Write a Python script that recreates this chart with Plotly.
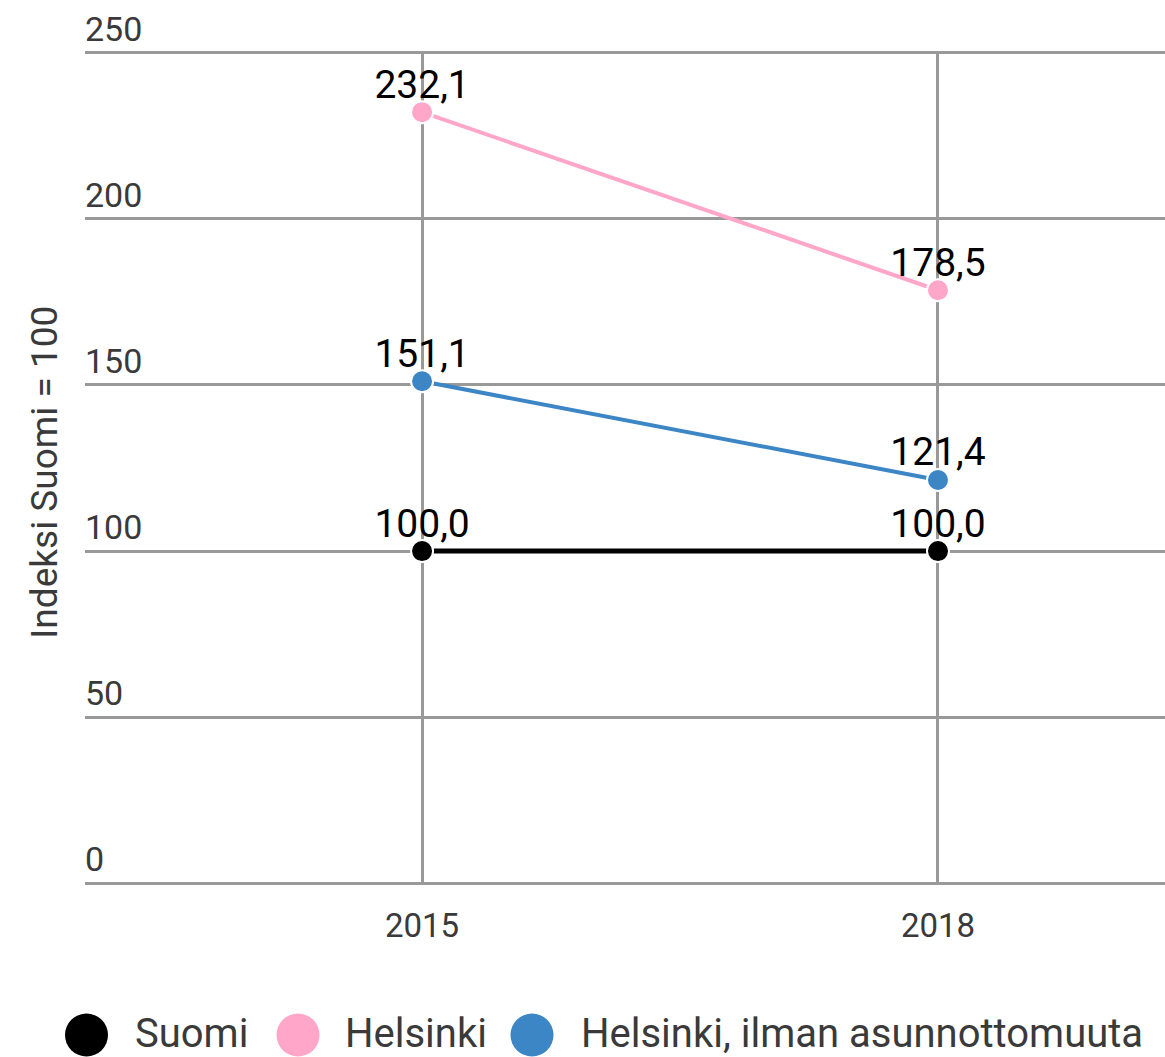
import plotly.graph_objects as go

years = [2015, 2018]
series_names = ["Suomi", "Helsinki", "Helsinki, ilman asunnottomuuta"]
suomi = [100.0, 100.0]
helsinki = [232.1, 178.5]
helsinki_ilman = [151.1, 121.4]
y_ticks = [0, 50, 100, 150, 200, 250]
colors = ["#000000", "#ffa6c9", "#3d86c6"]
line_widths = [5, 4, 4]

def fmt(v):
    return f"{v:.1f}".replace(".", ",")

FONT = "Roboto"
TICKCOL = "#3a3a3a"

fig = go.Figure()
all_vals = [suomi, helsinki, helsinki_ilman]
for name, vals, col, lw in zip(series_names, all_vals, colors, line_widths):
    fig.add_trace(go.Scatter(
        x=years, y=vals, name=name, mode="lines+markers",
        line=dict(color=col, width=lw),
        marker=dict(color=col, size=22, line=dict(color="white", width=2)),
        cliponaxis=False, showlegend=False,
    ))
for name, vals in zip(series_names, all_vals):
    fig.add_trace(go.Scatter(
        x=years, y=vals, name=name + " labels", mode="markers+text",
        marker=dict(size=6, opacity=0),
        text=[fmt(v) for v in vals], textposition="top center",
        textfont=dict(family=FONT, size=39, color="#000000"),
        cliponaxis=False, showlegend=False, hoverinfo="skip",
    ))

fig.update_layout(
    width=1165, height=1057,
    margin=dict(l=85, r=0, t=51, b=172),
    plot_bgcolor="white", paper_bgcolor="white",
    font=dict(family=FONT, color=TICKCOL),
    showlegend=False,
)
fig.update_xaxes(
    range=[2013.04, 2019.32], tickvals=years, ticktext=[str(y) for y in years],
    showgrid=True, gridcolor="#999999", gridwidth=2.5,
    zeroline=False, showline=False, ticks="",
    tickfont=dict(family=FONT, size=33, color=TICKCOL),
    ticklabelstandoff=18,
)
fig.update_yaxes(
    range=[-0.5, 250.5], tickvals=y_ticks, ticktext=[str(v) for v in y_ticks],
    showgrid=True, gridcolor="#999999", gridwidth=2.5,
    zeroline=False, showline=False, ticks="",
    ticklabelposition="inside top", ticklabeloverflow="allow",
    ticklabelstandoff=-3,
    tickfont=dict(family=FONT, size=34, color=TICKCOL),
)
fig.add_annotation(
    text="Indeksi Suomi = 100", textangle=-90,
    xref="paper", yref="paper", x=(45 - 85) / 1080, y=(883 - 469 - 1.7) / 834,
    xanchor="center", yanchor="middle", showarrow=False,
    font=dict(family=FONT, size=37, color=TICKCOL),
)

# manual legend with large circles (pixel positions converted to paper coords)
def px_x(px):
    return (px - 85) / 1080

def px_y(py):
    return (1057 - 172 - py) / 834

leg_cy = 1035
circle_x = [86.5, 298, 532]
text_x = [134, 344, 580]
r = 21.5
for name, col, cx, tx in zip(series_names, colors, circle_x, text_x):
    fig.add_shape(
        type="circle", xref="paper", yref="paper",
        x0=px_x(cx - r), x1=px_x(cx + r),
        y0=px_y(leg_cy + r), y1=px_y(leg_cy - r),
        fillcolor=col, line=dict(width=0),
    )
    fig.add_annotation(
        text=name, xref="paper", yref="paper",
        x=px_x(tx), y=px_y(leg_cy - 2), xanchor="left", yanchor="middle",
        borderpad=0,
        showarrow=False, font=dict(family=FONT, size=40, color=TICKCOL),
    )

fig.write_html("out.html", config={"displayModeBar": False},
               post_script="document.body.style.margin='0';")
